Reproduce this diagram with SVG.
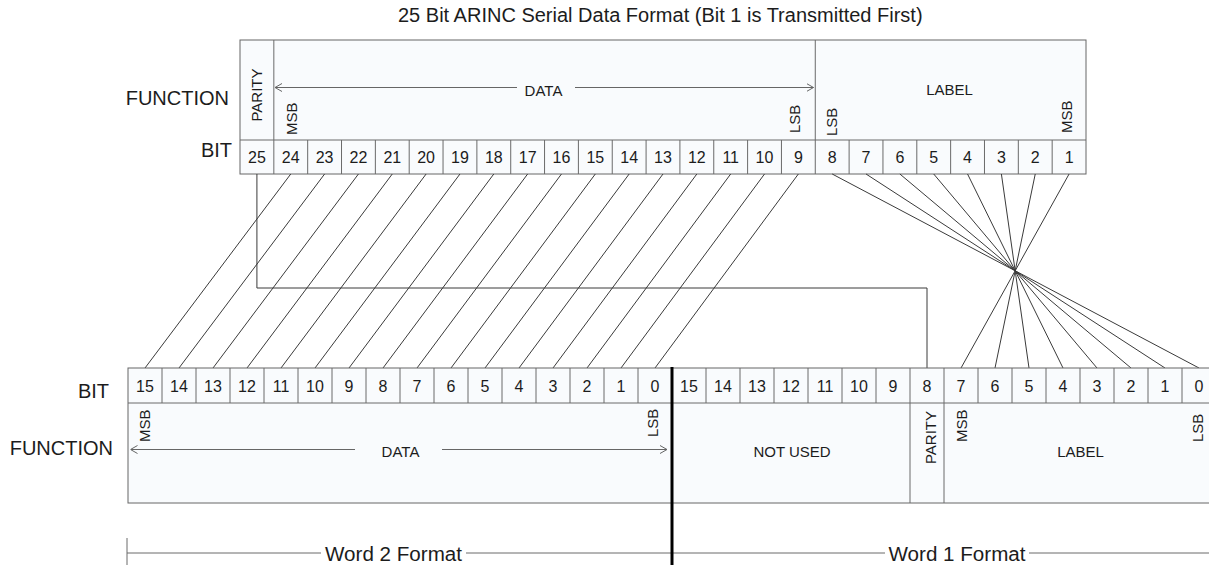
<svg xmlns="http://www.w3.org/2000/svg" width="1209" height="565" viewBox="0 0 1209 565">
<defs>
<style>
text{font-family:"Liberation Sans",Arial,sans-serif;fill:#1c1c1c}
.t20{font-size:20px}
.t15{font-size:15px}
.num{font-size:16px;text-anchor:middle}
.mid{text-anchor:middle}
.end{text-anchor:end}
.box{fill:#f9fbfd;stroke:#666;stroke-width:1}
.div{fill:none;stroke:#6a6a6a;stroke-width:1}
.con{fill:none;stroke:#3a3a3a;stroke-width:1}
.arr{fill:none;stroke:#666;stroke-width:1}
.thick{stroke:#000;stroke-width:3}
</style>
<marker id="ah" viewBox="0 0 7 9" refX="7" refY="4.5" markerWidth="7" markerHeight="9" markerUnits="userSpaceOnUse" orient="auto">
<path d="M0,0.5 L7,4.5 L0,8.5" fill="none" stroke="#666" stroke-width="1"/>
</marker>
</defs>
<rect width="1209" height="565" fill="#fff"/>

<g id="title">
<text class="t20" x="398" y="22">25 Bit ARINC Serial Data Format (Bit 1 is Transmitted First)</text>
</g>

<g id="top-row-labels">
<text class="t20 end" x="229" y="105">FUNCTION</text>
<text class="t20 end" x="232" y="157">BIT</text>
</g>

<g id="top-word">
<rect class="box" x="240" y="40" width="846" height="134"/>
<path class="div" d="M240 140H1086 M273.84 40V174 M815.28 40V174
M307.68 140V174 M341.52 140V174 M375.36 140V174 M409.2 140V174 M443.04 140V174 M476.88 140V174 M510.72 140V174 M544.56 140V174 M578.4 140V174 M612.24 140V174 M646.08 140V174 M679.92 140V174 M713.76 140V174 M747.6 140V174 M781.44 140V174
M849.12 140V174 M882.96 140V174 M916.8 140V174 M950.64 140V174 M984.48 140V174 M1018.32 140V174 M1052.16 140V174"/>
<g id="top-parity"><text class="t15 mid" transform="translate(262,95) rotate(-90)">PARITY</text></g>
<g id="top-data">
<line class="arr" x1="517" y1="87.5" x2="275" y2="87.5" marker-end="url(#ah)"/>
<line class="arr" x1="575" y1="87.5" x2="813.5" y2="87.5" marker-end="url(#ah)"/>
<text class="t15 mid" x="543.5" y="95.5">DATA</text>
<text class="t15" transform="translate(296.5,135) rotate(-90)">MSB</text>
<text class="t15" transform="translate(800,133) rotate(-90)">LSB</text>
</g>
<g id="top-label">
<text class="t15 mid" x="949.5" y="95">LABEL</text>
<text class="t15" transform="translate(837,136) rotate(-90)">LSB</text>
<text class="t15" transform="translate(1072,133) rotate(-90)">MSB</text>
</g>
<g id="top-bits">
<text class="num" x="256.92" y="163">25</text>
<text class="num" x="290.76" y="163">24</text>
<text class="num" x="324.6" y="163">23</text>
<text class="num" x="358.44" y="163">22</text>
<text class="num" x="392.28" y="163">21</text>
<text class="num" x="426.12" y="163">20</text>
<text class="num" x="459.96" y="163">19</text>
<text class="num" x="493.8" y="163">18</text>
<text class="num" x="527.64" y="163">17</text>
<text class="num" x="561.48" y="163">16</text>
<text class="num" x="595.32" y="163">15</text>
<text class="num" x="629.16" y="163">14</text>
<text class="num" x="663" y="163">13</text>
<text class="num" x="696.84" y="163">12</text>
<text class="num" x="730.68" y="163">11</text>
<text class="num" x="764.52" y="163">10</text>
<text class="num" x="798.36" y="163">9</text>
<text class="num" x="832.2" y="163">8</text>
<text class="num" x="866.04" y="163">7</text>
<text class="num" x="899.88" y="163">6</text>
<text class="num" x="933.72" y="163">5</text>
<text class="num" x="967.56" y="163">4</text>
<text class="num" x="1001.4" y="163">3</text>
<text class="num" x="1035.24" y="163">2</text>
<text class="num" x="1069.08" y="163">1</text>
</g>
</g>

<g id="connectors">
<path class="con" d="M290.76 174L145 368 M324.6 174L179 368 M358.44 174L213 368 M392.28 174L247 368 M426.12 174L281 368 M459.96 174L315 368 M493.8 174L349 368 M527.64 174L383 368 M561.48 174L417 368 M595.32 174L451 368 M629.16 174L485 368 M663 174L519 368 M696.84 174L553 368 M730.68 174L587 368 M764.52 174L621 368 M798.36 174L655 368"/>
<path class="con" d="M256.92 174V288H927V368"/>
<path class="con" d="M832.2 174L1199 368 M866.04 174L1165 368 M899.88 174L1131 368 M933.72 174L1097 368 M967.56 174L1063 368 M1001.4 174L1029 368 M1035.24 174L995 368 M1069.08 174L961 368"/>
</g>

<g id="bottom-row-labels">
<text class="t20 end" x="109" y="398">BIT</text>
<text class="t20 end" x="113" y="455">FUNCTION</text>
</g>

<g id="bottom-word">
<rect class="box" x="128" y="368" width="1088" height="135"/>
<path class="div" d="M128 403H1216
M162 368V403 M196 368V403 M230 368V403 M264 368V403 M298 368V403 M332 368V403 M366 368V403 M400 368V403 M434 368V403 M468 368V403 M502 368V403 M536 368V403 M570 368V403 M604 368V403 M638 368V403
M706 368V403 M740 368V403 M774 368V403 M808 368V403 M842 368V403 M876 368V403 M910 368V503 M944 368V503 M978 368V403 M1012 368V403 M1046 368V403 M1080 368V403 M1114 368V403 M1148 368V403 M1182 368V403"/>
<g id="bottom-data">
<line class="arr" x1="355" y1="449.5" x2="130.5" y2="449.5" marker-end="url(#ah)"/>
<line class="arr" x1="442" y1="449.5" x2="667" y2="449.5" marker-end="url(#ah)"/>
<text class="t15 mid" x="400.5" y="456.5">DATA</text>
<text class="t15" transform="translate(150,442) rotate(-90)">MSB</text>
<text class="t15" transform="translate(658,437) rotate(-90)">LSB</text>
</g>
<g id="bottom-notused"><text class="t15 mid" x="792" y="457">NOT USED</text></g>
<g id="bottom-parity"><text class="t15 mid" transform="translate(936,437.5) rotate(-90)">PARITY</text></g>
<g id="bottom-label">
<text class="t15 mid" x="1080.5" y="457">LABEL</text>
<text class="t15" transform="translate(967,442) rotate(-90)">MSB</text>
<text class="t15" transform="translate(1203,442) rotate(-90)">LSB</text>
</g>
<g id="bottom-bits">
<text class="num" x="145" y="391.5">15</text>
<text class="num" x="179" y="391.5">14</text>
<text class="num" x="213" y="391.5">13</text>
<text class="num" x="247" y="391.5">12</text>
<text class="num" x="281" y="391.5">11</text>
<text class="num" x="315" y="391.5">10</text>
<text class="num" x="349" y="391.5">9</text>
<text class="num" x="383" y="391.5">8</text>
<text class="num" x="417" y="391.5">7</text>
<text class="num" x="451" y="391.5">6</text>
<text class="num" x="485" y="391.5">5</text>
<text class="num" x="519" y="391.5">4</text>
<text class="num" x="553" y="391.5">3</text>
<text class="num" x="587" y="391.5">2</text>
<text class="num" x="621" y="391.5">1</text>
<text class="num" x="655" y="391.5">0</text>
<text class="num" x="689" y="391.5">15</text>
<text class="num" x="723" y="391.5">14</text>
<text class="num" x="757" y="391.5">13</text>
<text class="num" x="791" y="391.5">12</text>
<text class="num" x="825" y="391.5">11</text>
<text class="num" x="859" y="391.5">10</text>
<text class="num" x="893" y="391.5">9</text>
<text class="num" x="927" y="391.5">8</text>
<text class="num" x="961" y="391.5">7</text>
<text class="num" x="995" y="391.5">6</text>
<text class="num" x="1029" y="391.5">5</text>
<text class="num" x="1063" y="391.5">4</text>
<text class="num" x="1097" y="391.5">3</text>
<text class="num" x="1131" y="391.5">2</text>
<text class="num" x="1165" y="391.5">1</text>
<text class="num" x="1199" y="391.5">0</text>
</g>
</g>

<g id="word-format">
<path class="div" d="M127 538V566 M127 553H321 M466 553H885 M1029 553H1209"/>
<text class="t20" x="325" y="561" font-size="21" textLength="137" lengthAdjust="spacingAndGlyphs">Word 2 Format</text>
<text class="t20" x="888.5" y="561" font-size="21" textLength="137" lengthAdjust="spacingAndGlyphs">Word 1 Format</text>
</g>

<line id="word-divider" class="thick" x1="672" y1="367" x2="672" y2="565"/>
</svg>
